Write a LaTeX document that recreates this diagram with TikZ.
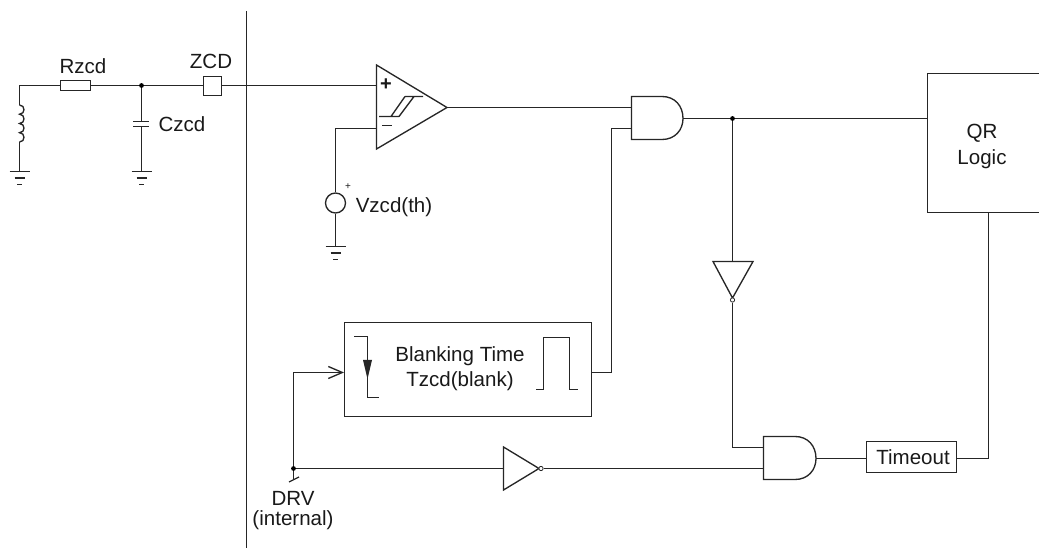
\documentclass[tikz,border=0pt]{standalone}
\usepackage{fontspec}
\setmainfont{Liberation Sans}
\usetikzlibrary{arrows.meta}
\tikzset{
  wire/.style={line width=1pt,color=black!85},
  lbl/.style={font=\fontsize{15.4}{18}\selectfont,inner sep=0pt,text=black!90,align=center},
  boxn/.style={draw=black!85,line width=1pt,inner sep=0pt,fill=white},
  dotn/.style={circle,fill=black,inner sep=0pt,minimum size=3.6pt},
  bub/.style={circle,draw=black!85,fill=white,line width=0.6pt,inner sep=0pt,minimum size=3.2pt},
  gatepath/.style={wire,fill=white,line join=miter},
  gnd/.pic={
    \draw[wire] (-10,0) -- (10,0);
    \draw[wire] (-5,6.5) -- (5,6.5);
    \draw[wire] (-2.5,13) -- (2.5,13);
  }
}
\begin{document}
\begin{tikzpicture}[x=0.75pt,y=-0.75pt]
\useasboundingbox (0,0) rectangle (1039,548);

% divider
\coordinate (divT) at (246.5,11);
\coordinate (divB) at (246.5,548);
\draw[wire] (divT) -- (divB);

% input network
\coordinate (g1) at (19.5,171.5);
\coordinate (g2) at (141.5,171.5);
\coordinate (g3) at (335.5,246.5);
\coordinate (corner) at (19.5,85.5);
\coordinate (coilT) at (19.5,105);
\coordinate (coilB) at (19.5,142);
\node[boxn,minimum width=22.5pt,minimum height=7.5pt] (R) at (75.5,85.5) {};
\node[boxn,minimum width=13.5pt,minimum height=14.25pt] (ZCD) at (212.5,86) {};
\node[dotn] (j1) at (141.5,85.5) {};
\coordinate (c1) at (141.5,121);
\coordinate (c2) at (141.5,126.5);
\draw[wire] (R.west) -- (corner) -- (coilT);
\draw[wire] (coilT) .. controls (25.5,105) and (25.5,114.2) .. (19.5,114.2)
  .. controls (25.5,114.2) and (25.5,123.5) .. (19.5,123.5)
  .. controls (25.5,123.5) and (25.5,132.7) .. (19.5,132.7)
  .. controls (25.5,132.7) and (25.5,142) .. (19.5,142);
\draw[wire] (coilB) -- (g1);
\pic at (g1) {gnd};
\draw[wire] (R.east) -- (j1) -- (ZCD.west |- j1);
\draw[wire] (j1) -- (c1);
\draw[wire] (133,121.5) -- (149,121.5);
\draw[wire] (133,126.5) -- (149,126.5);
\draw[wire] (c2) -- (g2);
\pic at (g2) {gnd};
\node[lbl] (tR) at (83,66) {Rzcd};
\node[lbl] (tC) at (182,124) {Czcd};
\node[lbl] (tZ) at (211,61) {ZCD};

% comparator
\coordinate (cmpP) at (376.5,85.5);
\coordinate (cmpM) at (376.5,128.5);
\coordinate (cmpO) at (447,107.5);
\draw[wire] (ZCD.east |- cmpP) -- (cmpP);
\draw[gatepath] (376.5,65) -- (447,107.5) -- (376.5,149) -- cycle;
\node[lbl,font=\fontsize{15}{16}\selectfont\bfseries] (tPlus) at (386,85) {+};
\draw[wire] (382,125.5) -- (392,125.5);
\draw[wire] (379,116.5) -- (399,116.5) (391,116.5) -- (405,96.5) (399,116.5) -- (414,96.5) (405,96.5) -- (423,96.5);
\node[circle,draw=black!85,line width=1pt,inner sep=0pt,minimum size=15pt] (V) at (335.5,203) {};
\coordinate (mcorner) at (335.5,128.5);
\draw[wire] (cmpM) -- (mcorner) -- (V.north);
\draw[wire] (V.south) -- (g3);
\pic at (g3) {gnd};
\node[lbl,font=\fontsize{7.5}{8}\selectfont] (tVp) at (348,187) {+};
\node[lbl] (tV) at (394,207) {Vzcd(th)};

% first AND
\coordinate (a1I1) at (631.5,107.5);
\coordinate (a1I2) at (631.5,128.5);
\coordinate (a1O) at (683,118.5);
\draw[gatepath] (631.5,96.5) -- (662,96.5) .. controls (675,96.5) and (683,106) .. (683,118.5)
  .. controls (683,130) and (675,139.5) .. (662,139.5) -- (631.5,139.5) -- cycle;
\draw[wire] (cmpO) -- (a1I1);
\node[dotn] (j2) at (732.5,118.5) {};

% QR logic (open at the right picture edge)
\coordinate (qrTR) at (1039,73.5);
\coordinate (qrTL) at (927.5,73.5);
\coordinate (qrBL) at (927.5,212.5);
\coordinate (qrBR) at (1039,212.5);
\coordinate (qrIn) at (927.5,118.5);
\coordinate (qrOut) at (988.5,212.5);
\draw[wire] (qrTR) -- (qrTL) -- (qrBL) -- (qrBR);
\draw[wire] (a1O) -- (j2) -- (qrIn);
\node[lbl] (tQR) at (982,146.5) {QR\\[1.5pt]Logic};

% vertical inverter
\coordinate (iv1T) at (732.5,261.5);
\draw[wire] (j2) -- (iv1T);
\draw[gatepath] (713,261.5) -- (753,261.5) -- (732.5,298) -- cycle;
\node[bub] (iv1B) at (732.5,300) {};

% second AND
\coordinate (a2I1) at (763.5,447.5);
\coordinate (a2I2) at (763.5,468.5);
\coordinate (a2O) at (816,458.5);
\coordinate (a2C) at (732.5,447.5);
\draw[gatepath] (763.5,436.5) -- (795,436.5) .. controls (808,436.5) and (816,446) .. (816,458.5)
  .. controls (816,470) and (808,479.5) .. (795,479.5) -- (763.5,479.5) -- cycle;
\draw[wire] (iv1B.south) -- (a2C) -- (a2I1);

% timeout
\node[boxn,minimum width=67.5pt,minimum height=23.25pt] (TO) at (911.5,457) {};
\node[lbl] (tTO) at (913,457) {Timeout};
\draw[wire] (a2O) -- (TO.west |- a2O);
\coordinate (toC) at (988.5,458.5);
\draw[wire] (TO.east |- toC) -- (toC) -- (qrOut);

% blanking
\node[boxn,minimum width=185.25pt,minimum height=70.5pt] (BL) at (468,369.5) {};
\node[lbl] (tBL) at (460,368.5) {Blanking Time\\[0.75pt]Tzcd(blank)};
\draw[wire] (354,336.5) -- (367.5,336.5) -- (367.5,397.5) -- (379,397.5);
\fill[black!85] (363,360) -- (372,360) -- (367.5,379) -- cycle;
\draw[wire] (536,389.5) -- (543.5,389.5) -- (543.5,337.5) -- (569.5,337.5) -- (569.5,389.5) -- (578,389.5);
\coordinate (blOut) at (591.5,372.5);
\coordinate (o1) at (611.5,372.5);
\coordinate (o2) at (611.5,128.5);
\draw[wire] (blOut) -- (o1) -- (o2) -- (a1I2);

% DRV
\node[dotn] (j3) at (293.5,468.5) {};
\coordinate (blC) at (293.5,372.5);
\coordinate (blIn) at (344,372.5);
\draw[wire,-{Straight Barb[length=10.5pt,width=9pt,line width=1pt]}] (j3) -- (blC) -- (blIn);
\coordinate (iv2I) at (503.5,468.5);
\draw[wire] (j3) -- (iv2I);
\draw[gatepath] (503.5,447) -- (539,468.5) -- (503.5,490) -- cycle;
\node[bub] (iv2B) at (541,468.5) {};
\draw[wire] (iv2B.east) -- (a2I2);
\coordinate (drvS) at (293.5,479);
\draw[wire] (j3) -- (drvS);
\draw[wire] (289,482) -- (299,477);
\node[lbl] (tDRV) at (293,511) {DRV\\[-3pt](internal)};
\end{tikzpicture}
\end{document}
